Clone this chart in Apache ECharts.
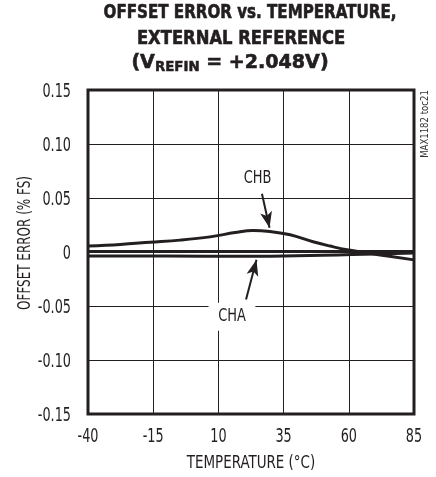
<!DOCTYPE html>
<html><head><meta charset="utf-8">
<script src="https://cdn.jsdelivr.net/npm/echarts@6/dist/echarts.min.js"></script>
<style>html,body{margin:0;padding:0;background:#fff}#c{width:436px;height:477px}</style>
</head><body><div id="c"></div>
<script>
const xTicks = [-40, -15, 10, 35, 60, 85];
const xTickLabels = ['-40', '-15', '10', '35', '60', '85'];
const yTicks = [0.15, 0.10, 0.05, 0, -0.05, -0.10, -0.15];
const yTickLabels = ['0.15', '0.10', '0.05', '0', '-0.05', '-0.10', '-0.15'];
const chbTemp = [-40, -27.7, -16.2, -4.7, 6.8, 16.4, 23.3, 29.8, 37.5, 46.3, 52.8, 59.3, 66.2, 72, 85];
const chbVal  = [0.0055, 0.007, 0.009, 0.011, 0.014, 0.018, 0.020, 0.019, 0.016, 0.0095, 0.0055, 0.002, -0.0005, -0.0027, -0.0073];
const chaTemp = [-40, -10, 20, 50, 70, 85];
const chaVal  = [-0.0037, -0.0037, -0.004, -0.003, -0.0018, -0.001];
const refTemp = [-40, 85];
const refVal  = [0.0005, 0.0005];
const annotations = [
  { text: 'CHB', at: [25.0, 0.0685], arrowFrom: [26.7, 0.054], arrowTo: [29.6, 0.0225], box: false },
  { text: 'CHA', at: [15.2, -0.0600], arrowFrom: [20.6, -0.044], arrowTo: [24.6, -0.0072], box: true }
];

const ink = '#231f20';
const font = '"DejaVu Sans Condensed", "Liberation Sans Narrow", sans-serif';
const chart = echarts.init(document.getElementById('c'));
chart.setOption({
  animation: false,
  grid: { left: 88, right: 22, top: 90, bottom: 63, show: true, borderColor: ink, borderWidth: 3 },
  xAxis: {
    type: 'value', min: -40, max: 85, interval: 25,
    axisLine: { show: false }, axisTick: { show: false }, axisLabel: { show: false },
    splitLine: { show: true, lineStyle: { color: ink, width: 1 } }
  },
  yAxis: {
    type: 'value', min: -0.15, max: 0.15, interval: 0.05,
    axisLine: { show: false }, axisTick: { show: false }, axisLabel: { show: false },
    splitLine: { show: true, lineStyle: { color: ink, width: 1 } }
  },
  series: [
    { name: 'REF', type: 'line', symbol: 'none', data: refTemp.map((t,i)=>[t, refVal[i]]),
      lineStyle: { color: ink, width: 3 } },
    { name: 'CHA', type: 'line', symbol: 'none', smooth: true, data: chaTemp.map((t,i)=>[t, chaVal[i]]),
      lineStyle: { color: ink, width: 3 } },
    { name: 'CHB', type: 'line', symbol: 'none', smooth: 0.4, data: chbTemp.map((t,i)=>[t, chbVal[i]]),
      lineStyle: { color: ink, width: 3 },
      markLine: { silent: true, symbol: ['none', 'arrow'], symbolSize: [9, 16],
        lineStyle: { color: ink, width: 2, type: 'solid' }, label: { show: false },
        data: annotations.map(a => [{ coord: a.arrowFrom }, { coord: a.arrowTo }]) }
    }
  ]
});

const px = v => chart.convertToPixel({ xAxisIndex: 0 }, v);
const py = v => chart.convertToPixel({ yAxisIndex: 0 }, v);
const xBottom = py(-0.15), yLeft = px(-40), yRight = px(85);
const g = [];
const txt = (text, x, y, size, sx, opts) => Object.assign({
  type: 'text', x, y, scaleX: sx, scaleY: 1, z: 100,
  style: Object.assign({ text, fontFamily: font, fontSize: size, fill: ink, align: 'center', verticalAlign: 'middle' }, (opts && opts.style) || {})
}, (opts && opts.el) || {});
const heavy = { fontWeight: 'bold', stroke: ink, lineWidth: 0.6 };

// title
g.push(txt('OFFSET ERROR vs. TEMPERATURE,', 250, 13, 20, 0.84, { style: heavy }));
g.push(txt('EXTERNAL REFERENCE', 241, 39, 20, 0.91, { style: heavy }));
g.push({ type: 'text', x: 230, y: 63, scaleX: 1.06, z: 100, style: {
  text: '{p|(V}{s|REFIN}{p| = +2.048V)}', align: 'center', verticalAlign: 'middle', fontFamily: font,
  rich: { p: { fontFamily: font, fontWeight: 'bold', fontSize: 20, fill: ink, stroke: ink, lineWidth: 0.6, lineHeight: 24 },
          s: { fontFamily: font, fontWeight: 'bold', fontSize: 14, fill: ink, stroke: ink, lineWidth: 0.5, lineHeight: 24, padding: [8, 0, 0, 0] } } } });

// tick labels
xTicks.forEach((t, i) => g.push(txt(xTickLabels[i], px(t), xBottom + 23, 19, 0.75)));
yTicks.forEach((v, i) => g.push(txt(yTickLabels[i], yLeft - 17, py(v) + 2, 19, 0.75, { style: { align: 'right' } })));

// axis names
g.push(txt('TEMPERATURE (°C)', (yLeft + yRight) / 2, xBottom + 49, 18, 0.83));
g.push(txt('OFFSET ERROR (% FS)', 25, (py(0.15) + xBottom) / 2 - 9, 18, 0.74, { el: { rotation: Math.PI / 2 } }));

// annotations
annotations.forEach(a => {
  const o = txt(a.text, px(a.at[0]), py(a.at[1]), 18, 0.8);
  if (a.box) Object.assign(o.style, { backgroundColor: '#fff', padding: [6, 12, 4, 12] });
  g.push(o);
});

// watermark
g.push(txt('MAX1182 toc21', yRight + 11, 124, 10, 0.95, { el: { rotation: Math.PI / 2 }, style: { fill: '#333' } }));

chart.setOption({ graphic: g });
</script></body></html>
